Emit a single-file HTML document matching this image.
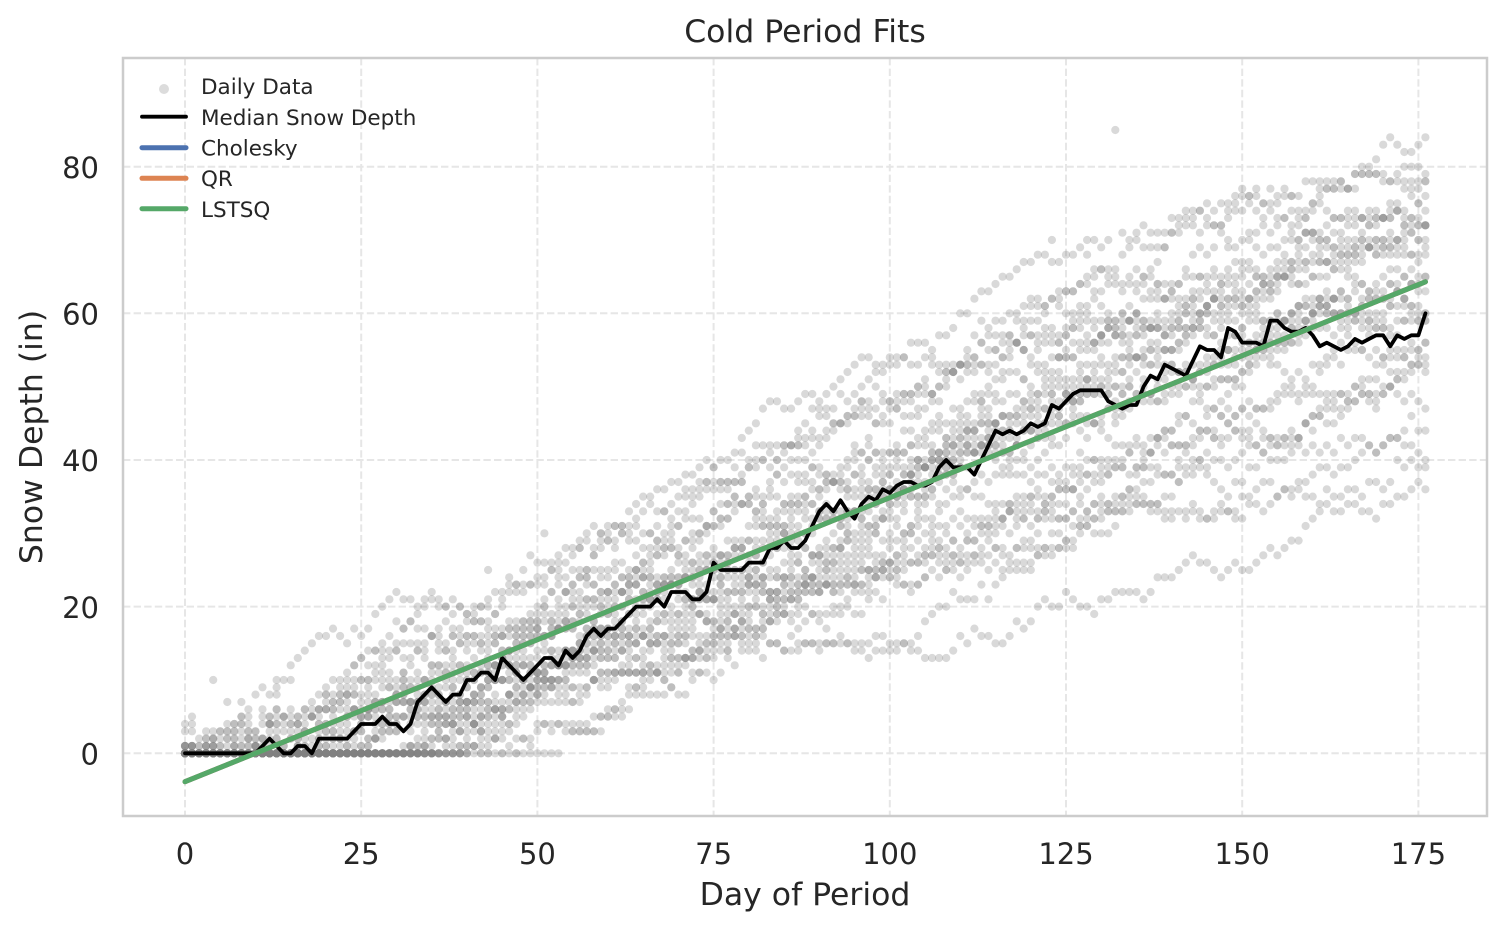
<!DOCTYPE html>
<html>
<head>
<meta charset="utf-8">
<style>
  html, body { margin: 0; padding: 0; background: #ffffff; }
  svg { display: block; }
  text { font-family: "DejaVu Sans", "Liberation Sans", sans-serif; fill: #262626; }
</style>
</head>
<body>
<svg id="chart" width="1506" height="931" viewBox="0 0 1506 931" xmlns="http://www.w3.org/2000/svg">
  <rect x="0" y="0" width="1506" height="931" fill="#ffffff"/>

  <!-- gridlines -->
  <g stroke="#e6e6e6" stroke-width="2" stroke-dasharray="7.4 3.2" fill="none">
    <line x1="185" y1="58" x2="185" y2="816"/>
    <line x1="361.2" y1="58" x2="361.2" y2="816"/>
    <line x1="537.4" y1="58" x2="537.4" y2="816"/>
    <line x1="713.6" y1="58" x2="713.6" y2="816"/>
    <line x1="889.8" y1="58" x2="889.8" y2="816"/>
    <line x1="1066" y1="58" x2="1066" y2="816"/>
    <line x1="1242.2" y1="58" x2="1242.2" y2="816"/>
    <line x1="1418.4" y1="58" x2="1418.4" y2="816"/>
    <line x1="123" y1="753.3" x2="1487" y2="753.3"/>
    <line x1="123" y1="606.6" x2="1487" y2="606.6"/>
    <line x1="123" y1="460" x2="1487" y2="460"/>
    <line x1="123" y1="313.3" x2="1487" y2="313.3"/>
    <line x1="123" y1="166.7" x2="1487" y2="166.7"/>
  </g>

  <!-- scatter (generated) -->
  <g id="sc" fill="#808080" fill-opacity="0.3"></g>

  <!-- data-space lines -->
  <g transform="translate(185,753.3) scale(7.048,-7.333)" fill="none" stroke-linejoin="round" stroke-linecap="round">
    <polyline vector-effect="non-scaling-stroke" stroke="#000000" stroke-width="3.8" points="0,0 1,0 2,0 3,0 4,0 5,0 6,0 7,0 8,0 9,0 10,0 11,1 12,2 13,1 14,0 15,0 16,1 17,1 18,0 19,2 20,2 21,2 22,2 23,2 24,3 25,4 26,4 27,4 28,5 29,4 30,4 31,3 32,4 33,7 34,8 35,9 36,8 37,7 38,8 39,8 40,10 41,10 42,11 43,11 44,10 45,13 46,12 47,11 48,10 49,11 50,12 51,13 52,13 53,12 54,14 55,13 56,14 57,16 58,17 59,16 60,17 61,17 62,18 63,19 64,20 65,20 66,20 67,21 68,20 69,22 70,22 71,22 72,21 73,21 74,22 75,26 76,25 77,25 78,25 79,25 80,26 81,26 82,26 83,28 84,28 85,29 86,28 87,28 88,29 89,31 90,33 91,34 92,33 93,34.5 94,33 95,32 96,34 97,35 98,34.5 99,36 100,35.5 101,36.5 102,37 103,37 104,36.5 105,36.5 106,37 107,39 108,40 109,39 110,39 111,39 112,38 113,40 114,42 115,44 116,43.5 117,44 118,43.5 119,44 120,45 121,44.5 122,45 123,47.5 124,47 125,48 126,49 127,49.5 128,49.5 129,49.5 130,49.5 131,48 132,47.5 133,47 134,47.5 135,47.5 136,50 137,51.5 138,51 139,53 140,52.5 141,52 142,51.5 143,53.5 144,55.5 145,55 146,55 147,54 148,58 149,57.5 150,56 151,56 152,56 153,55.5 154,59 155,59 156,58 157,57.5 158,57.5 159,58 160,57 161,55.5 162,56 163,55.5 164,55 165,55.5 166,56.5 167,56 168,56.5 169,57 170,57 171,55.5 172,57 173,56.5 174,57 175,57 176,60"/>
    <line vector-effect="non-scaling-stroke" stroke="#4c72b0" stroke-width="5" x1="0" y1="-3.87" x2="176" y2="64.3"/>
    <line vector-effect="non-scaling-stroke" stroke="#dd8452" stroke-width="5" x1="0" y1="-3.87" x2="176" y2="64.3"/>
    <line vector-effect="non-scaling-stroke" stroke="#55a868" stroke-width="5" x1="0" y1="-3.87" x2="176" y2="64.3"/>
  </g>

  <!-- spines -->
  <rect x="123" y="58" width="1364" height="758" fill="none" stroke="#cccccc" stroke-width="2.5"/>

  <!-- x tick labels -->
  <g font-size="29" text-anchor="middle">
    <text x="185" y="864">0</text>
    <text x="361.2" y="864">25</text>
    <text x="537.4" y="864">50</text>
    <text x="713.6" y="864">75</text>
    <text x="889.8" y="864">100</text>
    <text x="1066" y="864">125</text>
    <text x="1242.2" y="864">150</text>
    <text x="1418.4" y="864">175</text>
  </g>

  <!-- y tick labels -->
  <g font-size="29" text-anchor="end">
    <text x="99" y="764.5">0</text>
    <text x="99" y="617.8">20</text>
    <text x="99" y="471.2">40</text>
    <text x="99" y="324.5">60</text>
    <text x="99" y="177.9">80</text>
  </g>

  <!-- axis labels and title -->
  <text x="805" y="905" font-size="31.5" text-anchor="middle">Day of Period</text>
  <text transform="translate(42,437) rotate(-90)" font-size="31.5" text-anchor="middle">Snow Depth (in)</text>
  <text x="805" y="42" font-size="31.5" text-anchor="middle">Cold Period Fits</text>

  <!-- legend -->
  <g>
    <circle cx="164" cy="89" r="5" fill="#808080" fill-opacity="0.28"/>
    <line x1="142" y1="116.7" x2="186" y2="116.7" stroke="#000000" stroke-width="3.8" stroke-linecap="round"/>
    <line x1="142" y1="147.7" x2="186" y2="147.7" stroke="#4c72b0" stroke-width="5" stroke-linecap="round"/>
    <line x1="142" y1="178.3" x2="186" y2="178.3" stroke="#dd8452" stroke-width="5" stroke-linecap="round"/>
    <line x1="142" y1="208.7" x2="186" y2="208.7" stroke="#55a868" stroke-width="5" stroke-linecap="round"/>
    <g font-size="21.5">
      <text x="201" y="94">Daily Data</text>
      <text x="201" y="124.8">Median Snow Depth</text>
      <text x="201" y="155.6">Cholesky</text>
      <text x="201" y="186.2">QR</text>
      <text x="201" y="216.8">LSTSQ</text>
    </g>
  </g>
</svg>
<script>
(function(){
  function mulberry32(a){return function(){a|=0;a=a+0x6D2B79F5|0;var t=Math.imul(a^a>>>15,1|a);t=t+Math.imul(t^t>>>7,61|t)^t;return((t^t>>>14)>>>0)/4294967296;};}
  var R = mulberry32(987654);
  function m(x){
    if (x <= 8) return 0;
    if (x <= 130) return 0.42*(x-8);
    return 0.42*122 + 0.25*(x-130);
  }
  var X0 = 185, SX = 7.048, Y0 = 753.3, SY = 7.333;
  var out = [];
  var years = 30;
  for (var k = 0; k < years; k++) {
    var s = -12 + 50*R();
    var g = 0.6 + 0.8*R();
    var w = (R()-0.5)*6;
    var drift = 0;
    for (var d = 0; d <= 176; d++) {
      w += (R()-0.5)*3.2;
      w *= 0.975;
      if (w > 12) w = 12;
      if (w < -12) w = -12;
      var base = m(d - s)*g;
      var v = base + w;
      if (base === 0 && R() < 0.55) v = 0;
      if (R() < 0.01) v += R()*14;
      v = Math.round(Math.max(0, v));
      if (v > 90) v = 90;
      var cx = (X0 + SX*d).toFixed(1);
      var cy = (Y0 - SY*v).toFixed(1);
      out.push('<circle cx="'+cx+'" cy="'+cy+'" r="4.1"/>');
    }
  }
  document.getElementById('sc').innerHTML = out.join('');
})();
</script>
</body>
</html>
